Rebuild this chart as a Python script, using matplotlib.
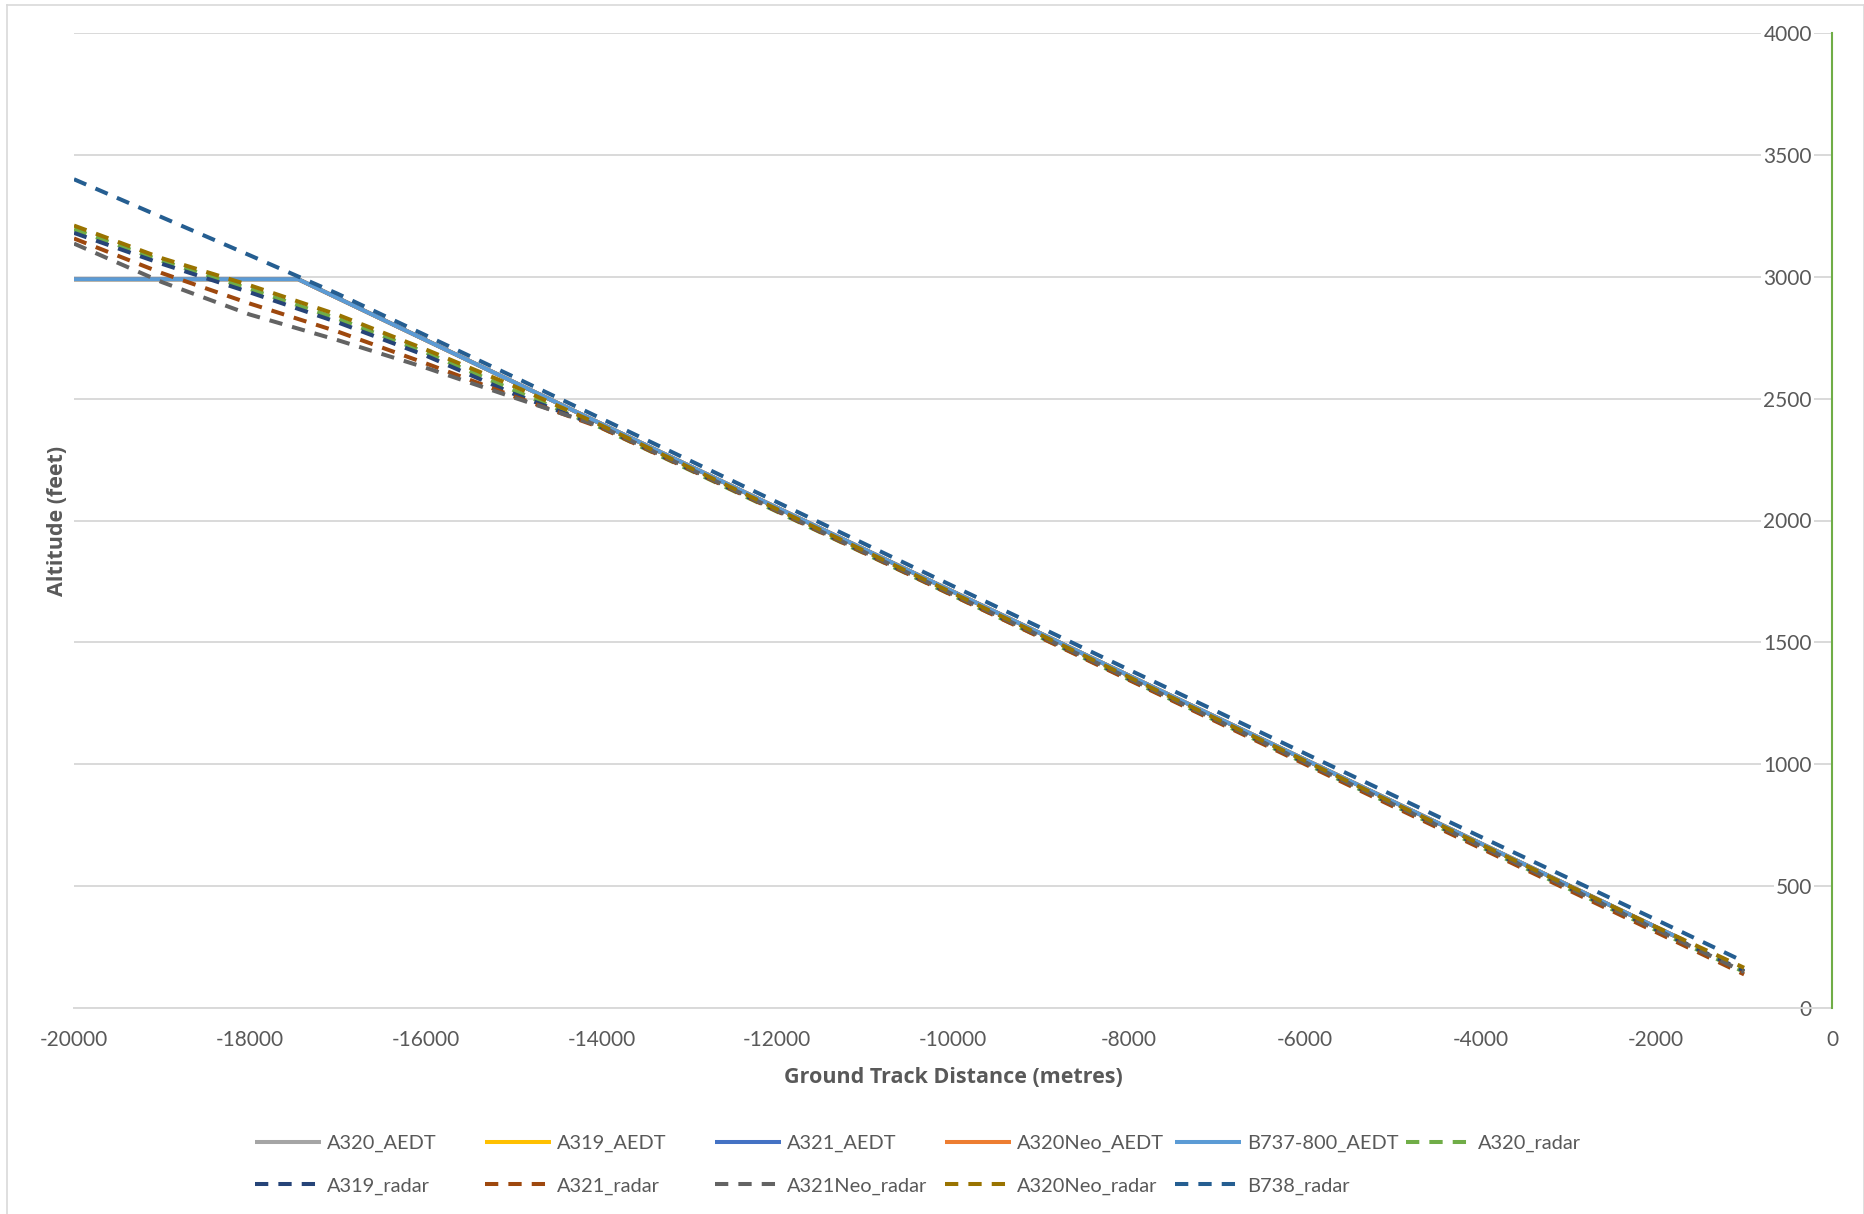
import matplotlib
matplotlib.use("Agg")
import matplotlib.pyplot as plt
from matplotlib.lines import Line2D

# ---------------- data ----------------
x_aedt = [-20000, -17450, -1700]
a320_aedt = [2990, 2990, 280]
a319_aedt = [2990, 2990, 280]
a321_aedt = [2990, 2990, 280]
a320neo_aedt = [2990, 2990, 280]
b737_aedt = [2990, 2990, 280]

x_radar = [-20000, -19000, -18000, -17000, -16000, -15000, -14000, -13000, -12000, -11000,
           -10000, -9000, -8000, -7000, -6000, -5000, -4000, -3000, -2000, -1000]
a320_radar = [3195, 3065, 2950, 2828, 2690, 2535, 2380, 2208, 2036, 1864,
              1692, 1520, 1348, 1177, 1005, 833, 662, 490, 319, 148]
a319_radar = [3180, 3053, 2936, 2813, 2677, 2520, 2383, 2211, 2039, 1867,
              1695, 1523, 1351, 1180, 1008, 836, 665, 494, 322, 152]
a321_radar = [3157, 3015, 2890, 2775, 2645, 2510, 2380, 2210, 2038, 1865,
              1692, 1519, 1346, 1174, 1001, 828, 656, 484, 311, 138]
a321neo_radar = [3136, 2978, 2845, 2740, 2627, 2505, 2385, 2213, 2041, 1869,
                 1697, 1525, 1353, 1181, 1009, 837, 665, 494, 322, 148]
a320neo_radar = [3210, 3076, 2965, 2844, 2702, 2552, 2390, 2218, 2046, 1874,
                 1702, 1530, 1358, 1186, 1015, 843, 672, 502, 332, 165]
b738_radar = [3400, 3244, 3088, 2930, 2760, 2590, 2418, 2247, 2075, 1903,
              1731, 1560, 1388, 1217, 1045, 874, 703, 533, 362, 190]

x_ticks = list(range(-20000, 1, 2000))
y_ticks = list(range(0, 4001, 500))

# ---------------- style ----------------
plt.rcParams['font.family'] = ['Lato', 'DejaVu Sans']
TXT = '#595959'
GRID = '#D9D9D9'

W, H = 1865, 1214
fig = plt.figure(figsize=(W / 100, H / 100), dpi=100)
ax = fig.add_axes([74 / W, 1 - 1008 / H, (1832 - 74) / W, (1008 - 33) / H])

LW = 2.9
dash = (3.3, 2.5)

series = [
    (x_aedt, a320_aedt, 'A320_AEDT', '#A5A5A5', '-'),
    (x_aedt, a319_aedt, 'A319_AEDT', '#FFC000', '-'),
    (x_aedt, a321_aedt, 'A321_AEDT', '#4472C4', '-'),
    (x_aedt, a320neo_aedt, 'A320Neo_AEDT', '#ED7D31', '-'),
    (x_aedt, b737_aedt, 'B737-800_AEDT', '#5B9BD5', '-'),
    (x_radar, a320_radar, 'A320_radar', '#70AD47', '--'),
    (x_radar, a319_radar, 'A319_radar', '#264478', '--'),
    (x_radar, a321_radar, 'A321_radar', '#9E480E', '--'),
    (x_radar, a321neo_radar, 'A321Neo_radar', '#636363', '--'),
    (x_radar, a320neo_radar, 'A320Neo_radar', '#997300', '--'),
    (x_radar, b738_radar, 'B738_radar', '#255E91', '--'),
]
handles = {}
for i, (xs, ys, lab, col, ls) in enumerate(series):
    if ls == '--':
        ln, = ax.plot(xs, ys, color=col, lw=LW, dashes=dash, dash_capstyle='butt',
                      label=lab, zorder=3 + i * 0.01)
    else:
        ln, = ax.plot(xs, ys, color=col, lw=LW, solid_capstyle='butt',
                      label=lab, zorder=3 + i * 0.01)
    handles[lab] = ln

ax.set_xlim(-20000, 0)
ax.set_ylim(0, 4000)
ax.set_xticks(x_ticks)
ax.set_yticks(y_ticks)
ax.grid(axis='y', color=GRID, lw=1.4, zorder=0)
ax.set_axisbelow(True)

for s in ['top', 'left']:
    ax.spines[s].set_visible(False)
ax.spines['bottom'].set_color(GRID)
ax.spines['bottom'].set_linewidth(1.4)
ax.spines['right'].set_color('#70AD47')
ax.spines['right'].set_linewidth(1.5)
ax.spines['right'].set_zorder(5)

ax.tick_params(axis='x', length=0, pad=16, labelsize=15, labelcolor=TXT)
ax.yaxis.set_ticks_position('right')
ax.tick_params(axis='y', length=0, pad=-14.4, labelsize=15, labelcolor=TXT,
               labelright=True, labelleft=False)
ax.set_yticklabels([str(v) for v in y_ticks])
ax.set_xticklabels([str(v) for v in x_ticks])
for lab in ax.get_yticklabels():
    lab.set_horizontalalignment('right')
    lab.set_bbox(dict(facecolor='white', edgecolor='none', pad=1.5))

ax.set_xlabel('Ground Track Distance (metres)', fontsize=15.5, fontweight='bold',
              color=TXT, labelpad=12, family=['Open Sans', 'DejaVu Sans'])
ax.yaxis.set_label_position('left')
ax.set_ylabel('Altitude (feet)', fontsize=15.5, fontweight='bold', color=TXT,
              labelpad=4, family=['Open Sans', 'DejaVu Sans'])

# legend: row-wise in reference -> column-major for matplotlib
order = ['A320_AEDT', 'A319_radar', 'A319_AEDT', 'A321_radar', 'A321_AEDT',
         'A321Neo_radar', 'A320Neo_AEDT', 'A320Neo_radar', 'B737-800_AEDT',
         'B738_radar', 'A320_radar']
leg = fig.legend([handles[k] for k in order], order, ncol=6,
                 loc='upper left', bbox_to_anchor=(255 / W, 1 - 1135 / H),
                 frameon=False, fontsize=14.4, labelcolor=TXT,
                 handlelength=3.3, handletextpad=0.3, columnspacing=0.33,
                 labelspacing=1.25, borderpad=0, borderaxespad=0)
leg._legend_handle_box.mode = 'equal'

# chart border
bc = GRID
fig.add_artist(Line2D([7 / W, 7 / W], [0, 1 - 5 / H], transform=fig.transFigure, color=bc, lw=1.2))
fig.add_artist(Line2D([7 / W, 1864 / W], [1 - 5 / H, 1 - 5 / H], transform=fig.transFigure, color=bc, lw=1.2))
fig.add_artist(Line2D([1864 / W, 1864 / W], [0, 1 - 5 / H], transform=fig.transFigure, color=bc, lw=1.2))

fig.savefig('out.png', dpi=100, facecolor='white')
